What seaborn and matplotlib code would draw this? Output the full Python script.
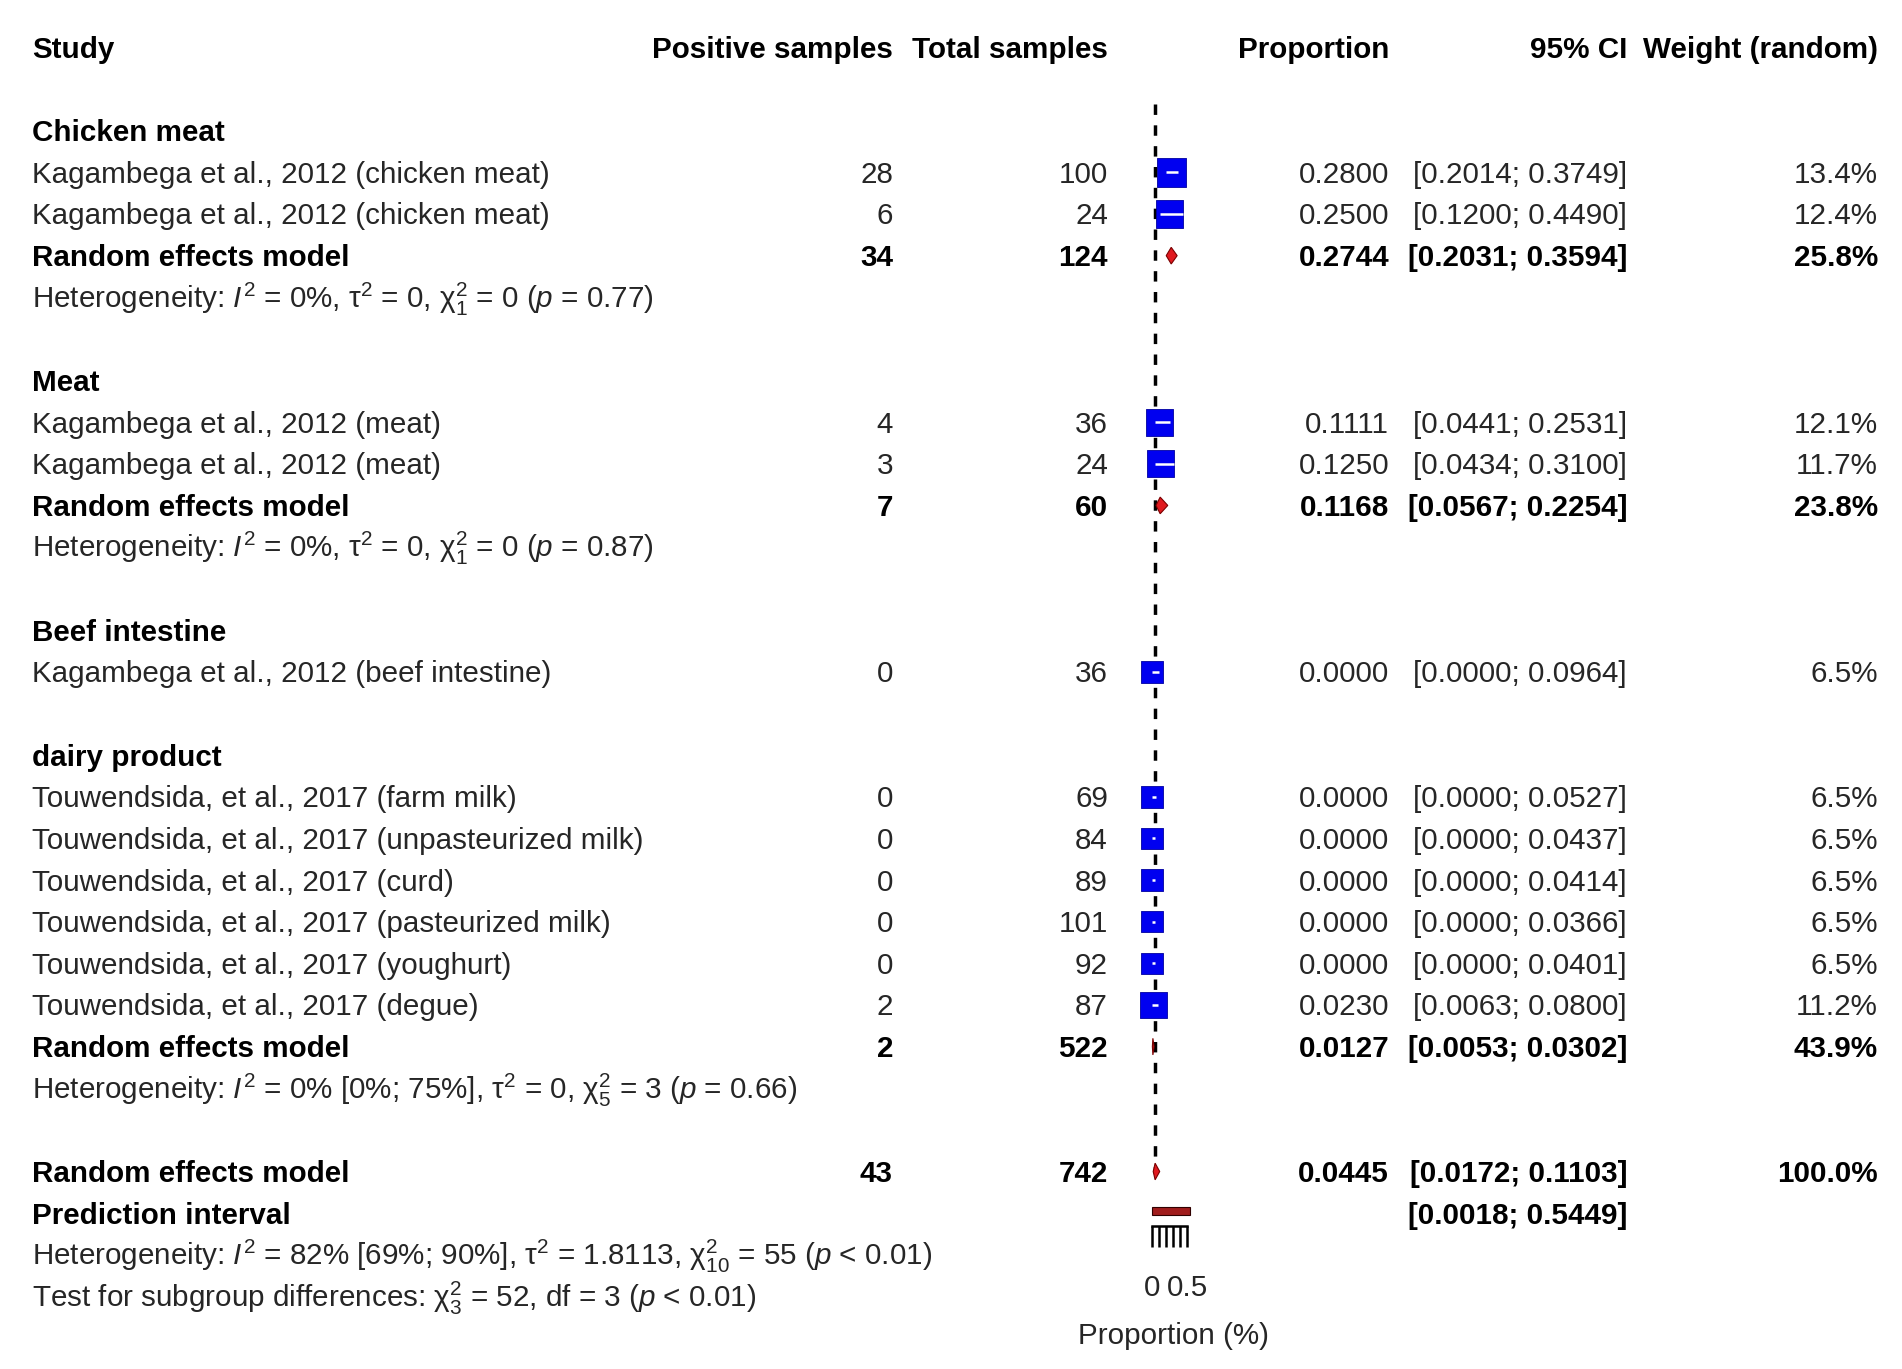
import numpy as np
import pandas as pd
import matplotlib
matplotlib.use("Agg")
import matplotlib.pyplot as plt
import seaborn as sns

# --- data ---
groups = ["Chicken meat", "Meat", "Beef intestine", "dairy product"]

study_labels = [
    "Kagambega et al., 2012 (chicken meat)",
    "Kagambega et al., 2012 (chicken meat)",
    "Kagambega et al., 2012 (meat)",
    "Kagambega et al., 2012 (meat)",
    "Kagambega et al., 2012 (beef intestine)",
    "Touwendsida, et al., 2017 (farm milk)",
    "Touwendsida, et al., 2017 (unpasteurized milk)",
    "Touwendsida, et al., 2017 (curd)",
    "Touwendsida, et al., 2017 (pasteurized milk)",
    "Touwendsida, et al., 2017 (youghurt)",
    "Touwendsida, et al., 2017 (degue)",
]
study_group = [0, 0, 1, 1, 2, 3, 3, 3, 3, 3, 3]
events = [28, 6, 4, 3, 0, 0, 0, 0, 0, 0, 2]
totals = [100, 24, 36, 24, 36, 69, 84, 89, 101, 92, 87]
prop = [0.2800, 0.2500, 0.1111, 0.1250, 0.0, 0.0, 0.0, 0.0, 0.0, 0.0, 0.0230]
ci_lo = [0.2014, 0.1200, 0.0441, 0.0434, 0.0, 0.0, 0.0, 0.0, 0.0, 0.0, 0.0063]
ci_hi = [0.3749, 0.4490, 0.2531, 0.3100, 0.0964, 0.0527, 0.0437, 0.0414, 0.0366, 0.0401, 0.0800]
weights = [13.4, 12.4, 12.1, 11.7, 6.5, 6.5, 6.5, 6.5, 6.5, 6.5, 11.2]

# subgroup random effects (None = single study, no pooling)
sub_events = [34, 7, None, 2]
sub_totals = [124, 60, None, 522]
sub_prop = [0.2744, 0.1168, None, 0.0127]
sub_lo = [0.2031, 0.0567, None, 0.0053]
sub_hi = [0.3594, 0.2254, None, 0.0302]
sub_weight = [25.8, 23.8, None, 43.9]
sub_het = [
    r"Heterogeneity: $I^2$ = 0%, $\mathrm{\tau}^2$ = 0, $\mathrm{\chi}^2_1$ = 0 ($p$ = 0.77)",
    r"Heterogeneity: $I^2$ = 0%, $\mathrm{\tau}^2$ = 0, $\mathrm{\chi}^2_1$ = 0 ($p$ = 0.87)",
    None,
    r"Heterogeneity: $I^2$ = 0% [0%; 75%], $\mathrm{\tau}^2$ = 0, $\mathrm{\chi}^2_5$ = 3 ($p$ = 0.66)",
]

overall_events = 43
overall_total = 742
overall_prop = 0.0445
overall_lo = 0.0172
overall_hi = 0.1103
pred_lo = 0.0018
pred_hi = 0.5449
overall_het = (r"Heterogeneity: $I^2$ = 82% [69%; 90%], $\mathrm{\tau}^2$ = 1.8113, "
               r"$\mathrm{\chi}^2_{10}$ = 55 ($p$ < 0.01)")
subgroup_test = r"Test for subgroup differences: $\mathrm{\chi}^2_3$ = 52, df = 3 ($p$ < 0.01)"

headers = ["Study", "Positive samples", "Total samples", "Proportion", "95% CI", "Weight (random)"]
tick_vals = [0, 0.1, 0.2, 0.3, 0.4, 0.5]
tick_text = ["0", "", "", "", "", "0.5"]
xlabel = "Proportion (%)"

# --- style ---
sns.set_theme(style="white")
plt.rcParams["font.family"] = ["Liberation Sans", "DejaVu Sans"]
plt.rcParams["mathtext.fontset"] = "custom"
plt.rcParams["mathtext.rm"] = "Liberation Sans"
plt.rcParams["mathtext.it"] = "Liberation Sans:italic"
plt.rcParams["mathtext.bf"] = "Liberation Sans:bold"

W, H = 1902, 1369
ROW0, ROWH = 47.5, 41.63          # pixel y of row 0, row height
row_top = -ROW0 / ROWH
row_bot = (H - ROW0) / ROWH
FS = 21.3
GREY = "#262626"

fig = plt.figure(figsize=(W / 100, H / 100), dpi=100)
ax = fig.add_axes([0, 0, 1, 1])
ax.set_xlim(0, W)
ax.set_ylim(row_bot, row_top)
ax.axis("off")

# forest panel: 0 at x=1152 px, 70 px per unit
f_left, f_xmin, f_xmax, px_unit = 1117, -0.5, 1.0, 70
ax_f = fig.add_axes([f_left / W, 0, (f_xmax - f_xmin) * px_unit / W, 1])
ax_f.patch.set_alpha(0)

# column edges (px)
C_STUDY, C_POS, C_TOT, C_PROP, C_CI, C_W = 32, 893, 1108, 1389, 1627, 1878


def put(x, r, s, ha="right", bold=False):
    ax.text(x, r + 0.25, s, ha=ha, va="baseline", fontsize=FS,
            fontweight="bold" if bold else "normal",
            color="black" if bold else GREY)


# header
for x, s, ha in zip([C_STUDY, C_POS, C_TOT, C_PROP, C_CI, C_W], headers,
                    ["left"] + ["right"] * 5):
    put(x, 0, s, ha=ha, bold=True)

# lay out rows
study_row = [0] * len(study_labels)
pool_row = [None] * len(groups)
r = 2
for g, name in enumerate(groups):
    put(C_STUDY, r, name, ha="left", bold=True)
    r += 1
    for i in range(len(study_labels)):
        if study_group[i] == g:
            study_row[i] = r
            r += 1
    if sub_prop[g] is not None:
        pool_row[g] = r
        r += 2
    r += 1
overall_row = r

for i, lab in enumerate(study_labels):
    rr = study_row[i]
    put(C_STUDY, rr, lab, ha="left")
    put(C_POS, rr, str(events[i]))
    put(C_TOT, rr, str(totals[i]))
    put(C_PROP, rr, f"{prop[i]:.4f}")
    put(C_CI, rr, f"[{ci_lo[i]:.4f}; {ci_hi[i]:.4f}]")
    put(C_W, rr, f"{weights[i]:.1f}%")

for g in range(len(groups)):
    rr = pool_row[g]
    if rr is None:
        continue
    put(C_STUDY, rr, "Random effects model", ha="left", bold=True)
    put(C_POS, rr, str(sub_events[g]), bold=True)
    put(C_TOT, rr, str(sub_totals[g]), bold=True)
    put(C_PROP, rr, f"{sub_prop[g]:.4f}", bold=True)
    put(C_CI, rr, f"[{sub_lo[g]:.4f}; {sub_hi[g]:.4f}]", bold=True)
    put(C_W, rr, f"{sub_weight[g]:.1f}%", bold=True)
    put(C_STUDY, rr + 1, sub_het[g], ha="left")

put(C_STUDY, overall_row, "Random effects model", ha="left", bold=True)
put(C_POS, overall_row, str(overall_events), bold=True)
put(C_TOT, overall_row, str(overall_total), bold=True)
put(C_PROP, overall_row, f"{overall_prop:.4f}", bold=True)
put(C_CI, overall_row, f"[{overall_lo:.4f}; {overall_hi:.4f}]", bold=True)
put(C_W, overall_row, "100.0%", bold=True)
put(C_STUDY, overall_row + 1, "Prediction interval", ha="left", bold=True)
put(C_CI, overall_row + 1, f"[{pred_lo:.4f}; {pred_hi:.4f}]", bold=True)
put(C_STUDY, overall_row + 2, overall_het, ha="left")
put(C_STUDY, overall_row + 3, subgroup_test, ha="left")
ax.text(1174, overall_row + 3.95, xlabel, ha="center", va="center",
        fontsize=FS, color=GREY)

# --- forest marks ---
df = pd.DataFrame({"prop": prop, "row": study_row, "weight": weights})
size_lo, size_hi = 240.0, 420.0
sns.scatterplot(data=df, x="prop", y="row", size="weight",
                sizes=(size_lo, size_hi), marker="s",
                color="#0000f0", edgecolor="#0000a0", linewidth=0.6,
                legend=False, ax=ax_f, zorder=3)

wmin, wmax = min(weights), max(weights)
for i in range(len(prop)):
    area = size_lo + (weights[i] - wmin) / (wmax - wmin) * (size_hi - size_lo)
    hw = np.sqrt(area) / 2 * (100 / 72) / px_unit
    rr = study_row[i]
    ax_f.hlines(rr, ci_lo[i], ci_hi[i], color="black", lw=1.8, zorder=2)
    ax_f.hlines(rr, max(ci_lo[i], prop[i] - hw), min(ci_hi[i], prop[i] + hw),
                color="white", lw=1.8, zorder=4)

dh = 0.2
for g in range(len(groups)):
    if pool_row[g] is None:
        continue
    rr = pool_row[g]
    ax_f.fill([sub_lo[g], sub_prop[g], sub_hi[g], sub_prop[g]],
              [rr, rr - dh, rr, rr + dh],
              facecolor="#e0191f", edgecolor="#7a0000", lw=0.8, zorder=4)
ax_f.fill([overall_lo, overall_prop, overall_hi, overall_prop],
          [overall_row, overall_row - dh, overall_row, overall_row + dh],
          facecolor="#e0191f", edgecolor="#7a0000", lw=0.8, zorder=4)

ph = 0.09
pr = overall_row + 0.95
ax_f.fill([pred_lo, pred_hi, pred_hi, pred_lo], [pr - ph, pr - ph, pr + ph, pr + ph],
          facecolor="#a01c1c", edgecolor="#300000", lw=0.8, zorder=4)

ax_f.vlines(overall_prop, 1.35, overall_row, colors="black",
            linestyles=(0, (3, 3)), lw=2.5, zorder=1)

ax_f.set_xlim(f_xmin, f_xmax)
ax_f.set_ylim(row_bot, row_top)
ax_f.set_xlabel("")
ax_f.set_ylabel("")
ax_f.set_yticks([])
for s in ["left", "right", "top"]:
    ax_f.spines[s].set_visible(False)
sp = ax_f.spines["bottom"]
sp.set_position(("data", 28.3))
sp.set_bounds(0, 0.5)
sp.set_color("black")
sp.set_linewidth(1.8)
ax_f.set_xticks(tick_vals)
ax_f.set_xticklabels(tick_text)
ax_f.tick_params(axis="x", direction="out", length=15, width=1.8, pad=20,
                 labelsize=FS, colors="black", labelcolor=GREY, bottom=True)

fig.savefig("out.png", dpi=100, facecolor="white")
